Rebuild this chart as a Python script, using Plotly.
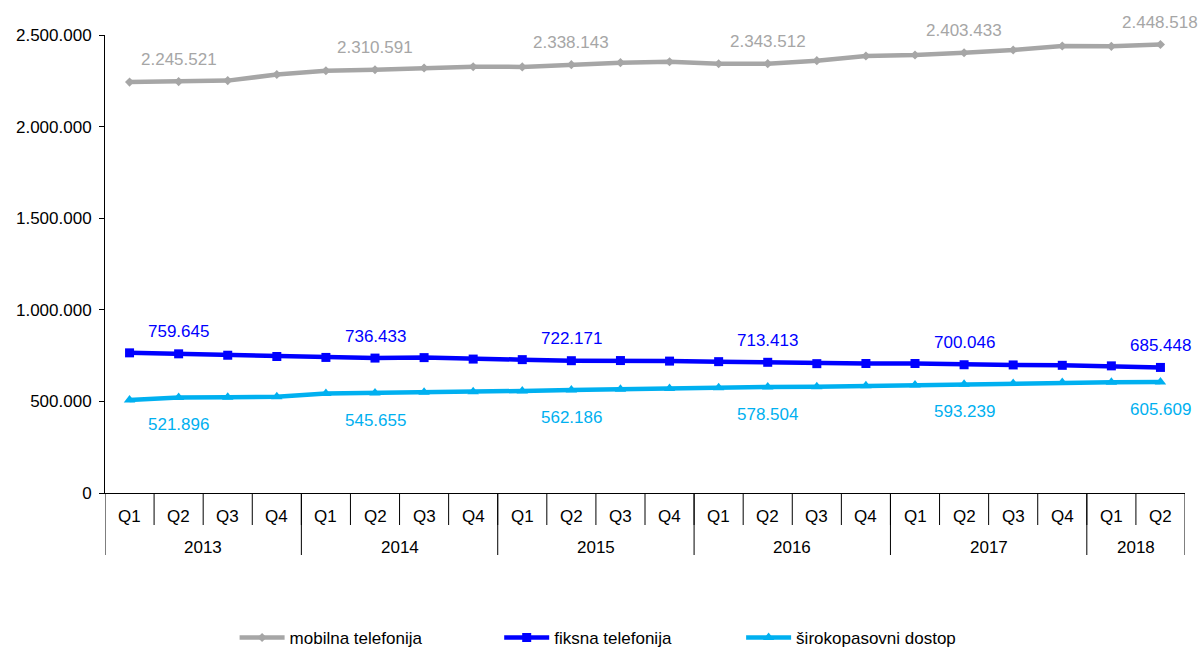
import plotly.graph_objects as go

years = ["2013"] * 4 + ["2014"] * 4 + ["2015"] * 4 + ["2016"] * 4 + ["2017"] * 4 + ["2018"] * 2
quarters = ["Q1", "Q2", "Q3", "Q4"] * 5 + ["Q1", "Q2"]

mobilna = [2243000, 2245521, 2251000, 2284000, 2305000, 2310591, 2320000, 2327000,
           2326000, 2338143, 2349000, 2354000, 2343000, 2343512, 2360000, 2385000,
           2391000, 2403433, 2418000, 2440000, 2438000, 2448518]
fiksna = [765000, 759645, 752000, 745000, 740000, 736433, 739000, 731000,
          728000, 722171, 723000, 720000, 717000, 713413, 706000, 707000,
          707000, 700046, 699000, 697000, 694000, 685448]
siroko = [507600, 521896, 522000, 525600, 543700, 545655, 550000, 553000,
          557000, 562186, 567000, 571000, 574000, 578504, 580000, 585000,
          590000, 593239, 598000, 603000, 604000, 605609]

label_idx = [1, 5, 9, 13, 17, 21]

series = [
    ("mobilna telefonija", mobilna, "#A6A6A6", "diamond", 7, 22, "legend"),
    ("fiksna telefonija", fiksna, "#0000FF", "square", 9, 22, "legend2"),
    ("širokopasovni dostop", siroko, "#00B0F0", "triangle-up", 10, -27, "legend3"),
]

FONT = "Liberation Sans, Arial, sans-serif"
FS = 17
n = len(quarters)

fig = go.Figure()
annotations = []
shapes = []
for name, vals, color, sym, msize, shift, leg in series:
    fig.add_trace(go.Scatter(
        x=[years, quarters], y=vals, name=name, mode="lines+markers",
        line=dict(color=color, width=4.5),
        marker=dict(symbol=sym, size=msize, color=color),
        legend=leg,
    ))
    for i in label_idx:
        annotations.append(dict(
            x=i, y=vals[i], xref="x", yref="y",
            text=f"{vals[i]:,}".replace(",", "."), showarrow=False,
            xanchor="center", yanchor="middle",
            yshift=shift, font=dict(family=FONT, size=FS, color=color),
        ))

# category labels (quarters) and group labels (years)
for i, q in enumerate(quarters):
    annotations.append(dict(
        x=i, y=0, xref="x", yref="paper", text=q, showarrow=False,
        xanchor="center", yanchor="middle", yshift=-23,
        font=dict(family=FONT, size=FS, color="#000000"),
    ))
year_order = []
for y in years:
    if y not in year_order:
        year_order.append(y)
for y in year_order:
    idxs = [k for k in range(n) if years[k] == y]
    annotations.append(dict(
        x=(idxs[0] + idxs[-1]) / 2, y=0, xref="x", yref="paper", text=y,
        showarrow=False, xanchor="center", yanchor="middle", yshift=-54,
        font=dict(family=FONT, size=FS, color="#000000"),
    ))
    # group divider at the start of each year
    shapes.append(dict(type="line", xref="x", yref="paper", ysizemode="pixel",
                       yanchor=0, x0=idxs[0] - 0.5, x1=idxs[0] - 0.5, y0=0, y1=-62,
                       line=dict(color="#000000", width=1)))
shapes.append(dict(type="line", xref="x", yref="paper", ysizemode="pixel",
                   yanchor=0, x0=n - 0.5, x1=n - 0.5, y0=0, y1=-62,
                   line=dict(color="#000000", width=1)))
# quarter separators
for k in range(1, n):
    shapes.append(dict(type="line", xref="x", yref="paper", ysizemode="pixel",
                       yanchor=0, x0=k - 0.5, x1=k - 0.5, y0=0, y1=-32,
                       line=dict(color="#000000", width=1)))

leg_common = dict(orientation="h", yanchor="middle", y=-0.3165, xanchor="left",
                  font=dict(family=FONT, size=FS, color="#000000"),
                  bgcolor="rgba(0,0,0,0)", itemwidth=45)

fig.update_layout(
    width=1201, height=650,
    margin=dict(l=105, r=16, t=35, b=157, autoexpand=False),
    paper_bgcolor="white", plot_bgcolor="white",
    separators=",.",
    font=dict(family=FONT, size=FS, color="#000000"),
    legend=dict(**leg_common, x=0.120),
    legend2=dict(**leg_common, x=0.365),
    legend3=dict(**leg_common, x=0.589),
    showlegend=True,
    xaxis=dict(
        type="multicategory", range=[-0.5, n - 0.5],
        showline=True, linecolor="#000000", linewidth=1,
        ticks="", showticklabels=False, showdividers=False,
        showgrid=False, zeroline=False,
    ),
    yaxis=dict(
        range=[0, 2500000], tick0=0, dtick=500000, tickformat=",d",
        showline=True, linecolor="#000000", linewidth=1,
        ticks="outside", ticklen=5, tickcolor="#000000",
        ticklabelstandoff=4,
        showgrid=False, zeroline=False,
        tickfont=dict(family=FONT, size=FS, color="#000000"),
    ),
    annotations=annotations,
    shapes=shapes,
)

fig.write_html("out.html", config={"displayModeBar": False},
               post_script="document.body.style.margin='0';")
